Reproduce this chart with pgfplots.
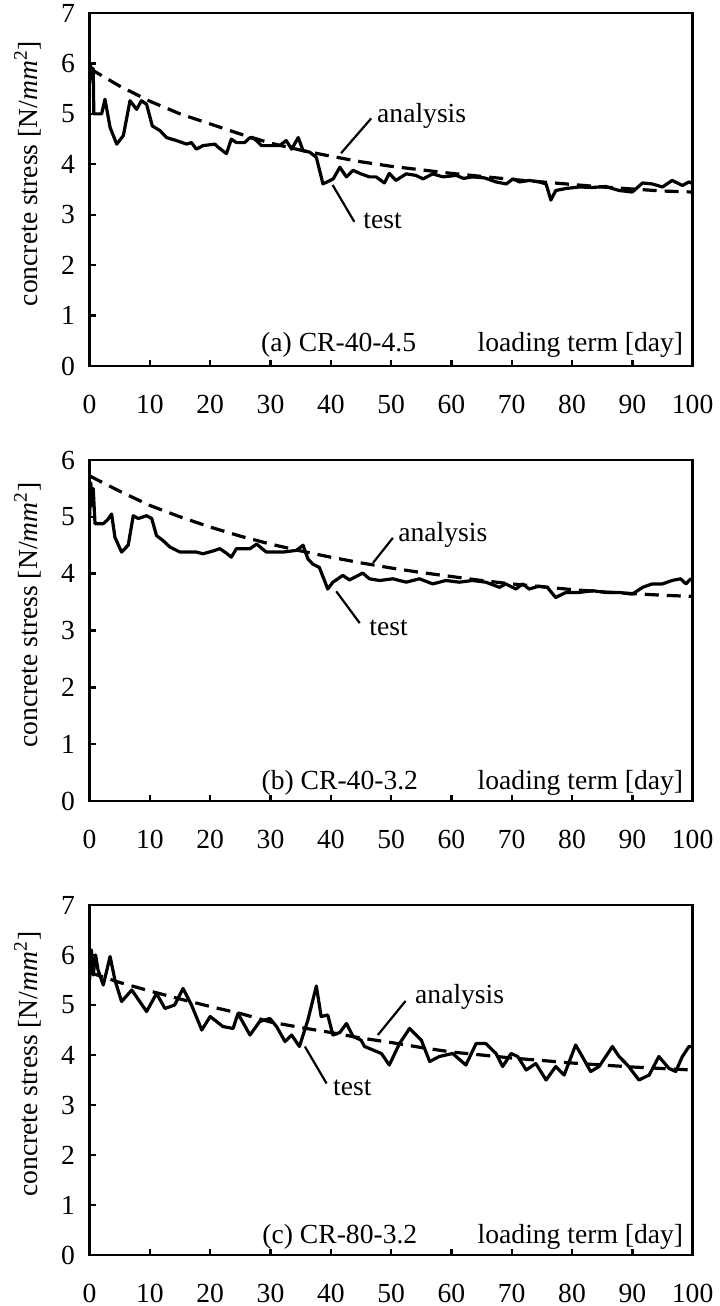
\documentclass[border=0pt]{standalone}
\usepackage{fontspec}
\setmainfont{Liberation Serif}
\usepackage{pgfplots}
\pgfplotsset{compat=1.18}
\tikzset{lead/.style={black, line width=1.1pt}}
\pgfplotsset{
 panel/.style={
  scale only axis, width=301.5pt, xmin=0, xmax=100, ymin=0,
  xtick={0,10,...,100}, tick align=inside, xtick pos=bottom, ytick pos=left,
  major tick length=3pt,
  every tick/.style={black, line width=1.2pt},
  axis line style={line width=1.4pt},
  /pgf/number format/assume math mode=true,
  xticklabel style={yshift=-10pt},
  yticklabel style={xshift=-2.5pt},
  every axis y label/.style={at={(axis description cs:-0.103,0.545)}, rotate=90, anchor=center},
  ylabel={concrete stress [N/\textit{mm}\textsuperscript{2}]},
 },
 test/.style={black, line width=1.6pt, line join=round, mark=none},
 anal/.style={black, line width=1.6pt, dash pattern=on 7pt off 4pt, mark=none},
}
\begin{document}
\fontsize{13.8pt}{16pt}\selectfont
\begin{tikzpicture}
\useasboundingbox (-44.8pt,-470pt) rectangle (314.7pt,183pt);
% ---------------- (a)
\begin{axis}[panel, height=176.5pt, ymax=7, ytick={0,1,...,7}, at={(0pt,0pt)}, anchor=south west]
\addplot[test] coordinates {(0,5.6)(0.2,5.95)(0.4,5.7)(0.6,5.9)(0.7,5.0)(2.0,5.0)(2.55,5.29)(3.4,4.73)(4.5,4.4)(5.6,4.57)(6.7,5.26)(7.8,5.09)(8.6,5.26)(9.45,5.19)(10.4,4.76)(11.65,4.67)(12.76,4.53)(14.4,4.47)(16.1,4.4)(16.9,4.43)(17.7,4.3)(18.8,4.37)(20.8,4.4)(21.3,4.34)(22.7,4.21)(23.5,4.5)(24.35,4.43)(25.7,4.43)(26.6,4.53)(27.4,4.5)(28.5,4.37)(29.9,4.37)(31.5,4.37)(32.6,4.47)(33.5,4.3)(34.6,4.53)(35.4,4.27)(36.5,4.24)(37.6,4.14)(38.7,3.61)(40.4,3.71)(41.5,3.94)(42.6,3.75)(43.7,3.88)(45.0,3.81)(46.4,3.75)(47.5,3.75)(48.9,3.63)(49.7,3.82)(50.8,3.68)(52.5,3.81)(54.1,3.78)(55.3,3.71)(56.9,3.81)(58.6,3.75)(60.8,3.78)(62,3.72)(63.5,3.75)(65.5,3.73)(67.4,3.65)(69.1,3.61)(70.2,3.71)(71.3,3.65)(72.9,3.68)(74.6,3.65)(75.7,3.61)(76.5,3.29)(77.3,3.48)(79,3.52)(81.2,3.55)(83.4,3.54)(85.6,3.56)(87.8,3.48)(90,3.45)(91.7,3.63)(93.3,3.61)(95,3.55)(96.6,3.68)(98.3,3.58)(99.4,3.65)(100,3.62)};
\addplot[anal] coordinates {(0,5.9)(5,5.55)(10,5.25)(15,5.0)(20,4.8)(25,4.6)(30,4.42)(35,4.28)(40,4.16)(45,4.05)(50,3.96)(55,3.89)(60,3.82)(65,3.76)(70,3.7)(75,3.65)(80,3.6)(85,3.55)(90,3.51)(95,3.47)(100,3.45)};
\draw[lead] (axis cs:41.7,4.22) -- (axis cs:46.7,4.91);
\node[anchor=west, inner sep=1pt] at (axis cs:47.3,4.96) {analysis};
\draw[lead] (axis cs:40.3,3.59) -- (axis cs:43.9,2.86);
\node[anchor=west, inner sep=1pt] at (axis cs:45,2.88) {test};
\node[yshift=10.5pt] at (rel axis cs:0.413,0) {(a) CR-40-4.5};
\node[yshift=10.5pt] at (rel axis cs:0.814,0) {loading term [day]};
\end{axis}
% ---------------- (b)
\begin{axis}[panel, height=170.5pt, ymax=6, ytick={0,1,...,6}, at={(0pt,-217.5pt)}, anchor=south west]
\addplot[test] coordinates {(0,5.0)(0.2,5.6)(0.4,5.2)(0.6,5.5)(0.9,4.88)(2.27,4.88)(3.0,4.95)(3.65,5.05)(4.2,4.64)(5.3,4.38)(6.4,4.5)(7.24,5.02)(8.07,4.97)(9.45,5.02)(10.3,4.97)(11.1,4.67)(12.2,4.58)(13.3,4.47)(15,4.38)(17.7,4.38)(18.8,4.35)(20.5,4.4)(21.6,4.44)(22.7,4.36)(23.5,4.29)(24.35,4.44)(26.6,4.44)(27.7,4.52)(29.3,4.38)(32.1,4.38)(34.3,4.41)(35.4,4.5)(36.2,4.26)(37,4.17)(38.1,4.11)(39.5,3.73)(40.35,3.85)(42,3.97)(43.1,3.89)(45.3,4.01)(46.4,3.91)(48.1,3.88)(50.3,3.91)(52.5,3.85)(54.7,3.91)(56.9,3.82)(59.1,3.88)(61.3,3.85)(63.5,3.88)(65.7,3.85)(68,3.76)(69,3.82)(70.7,3.73)(71.8,3.82)(72.9,3.73)(74.5,3.78)(75.9,3.76)(77.3,3.58)(79,3.67)(81.2,3.67)(83.4,3.7)(85.6,3.67)(87.8,3.67)(90,3.64)(91.7,3.76)(93.3,3.82)(95,3.82)(96.6,3.88)(98,3.91)(98.9,3.82)(99.7,3.91)(100,3.88)};
\addplot[anal] coordinates {(0,5.72)(5,5.45)(10,5.2)(15,5.0)(20,4.82)(25,4.66)(30,4.52)(35,4.4)(40,4.29)(45,4.19)(50,4.1)(55,4.02)(60,3.95)(65,3.88)(70,3.82)(75,3.77)(80,3.72)(85,3.68)(90,3.65)(95,3.62)(100,3.6)};
\draw[lead] (axis cs:47.0,4.19) -- (axis cs:50.3,4.63);
\node[anchor=west, inner sep=1pt] at (axis cs:50.8,4.69) {analysis};
\draw[lead] (axis cs:40.9,3.69) -- (axis cs:44.8,3.13);
\node[anchor=west, inner sep=1pt] at (axis cs:46.0,3.05) {test};
\node[yshift=9pt] at (rel axis cs:0.415,0) {(b) CR-40-3.2};
\node[yshift=9pt] at (rel axis cs:0.814,0) {loading term [day]};
\end{axis}
% ---------------- (c)
\begin{axis}[panel, height=175pt, ymax=7, ytick={0,1,...,7}, at={(0pt,-444.5pt)}, anchor=south west]
\addplot[test] coordinates {(0,5.5)(0.3,6.1)(0.6,5.6)(1.0,6.0)(1.4,5.7)(2.27,5.4)(3.4,5.97)(4.2,5.5)(5.3,5.07)(7,5.3)(9.45,4.87)(11.1,5.23)(12.5,4.93)(14.1,5.0)(15.5,5.33)(16.9,5.0)(18.6,4.5)(20,4.77)(22.1,4.57)(23.8,4.53)(24.6,4.83)(26.6,4.4)(28.2,4.67)(29.9,4.73)(31,4.57)(32.4,4.27)(33.5,4.4)(34.8,4.17)(36.2,4.7)(37.6,5.38)(38.4,4.77)(39.5,4.8)(40.35,4.4)(41.5,4.45)(42.6,4.63)(43.7,4.37)(45,4.3)(45.6,4.17)(47,4.1)(48.4,4.03)(49.7,3.8)(51.4,4.23)(53.05,4.53)(55,4.3)(56.4,3.87)(58,3.97)(60.2,4.03)(62.4,3.8)(64.1,4.23)(65.7,4.23)(67.4,4.03)(68.5,3.77)(69.9,4.03)(71,3.97)(72.4,3.7)(74,3.83)(75.7,3.5)(77.3,3.77)(78.7,3.6)(80.6,4.2)(81.7,3.97)(83.1,3.67)(84.5,3.77)(85.6,3.97)(86.7,4.17)(87.8,3.97)(89.2,3.8)(91.1,3.5)(92.8,3.6)(94.4,3.97)(96.1,3.73)(97.2,3.67)(98.3,3.97)(99.4,4.17)(100,4.17)};
\addplot[anal] coordinates {(0,5.65)(5,5.45)(10,5.28)(15,5.12)(20,4.97)(25,4.83)(30,4.66)(35,4.55)(40,4.45)(45,4.34)(50,4.25)(55,4.15)(60,4.06)(65,4.0)(70,3.94)(75,3.89)(80,3.84)(85,3.8)(90,3.76)(95,3.73)(100,3.7)};
\draw[lead] (axis cs:47.8,4.4) -- (axis cs:52.4,5.08);
\node[anchor=west, inner sep=1pt] at (axis cs:53.6,5.16) {analysis};
\draw[lead] (axis cs:35.7,4.17) -- (axis cs:39.3,3.43);
\node[anchor=west, inner sep=1pt] at (axis cs:40.0,3.34) {test};
\node[yshift=9pt] at (rel axis cs:0.415,0) {(c) CR-80-3.2};
\node[yshift=9pt] at (rel axis cs:0.814,0) {loading term [day]};
\end{axis}
\end{tikzpicture}
\end{document}
